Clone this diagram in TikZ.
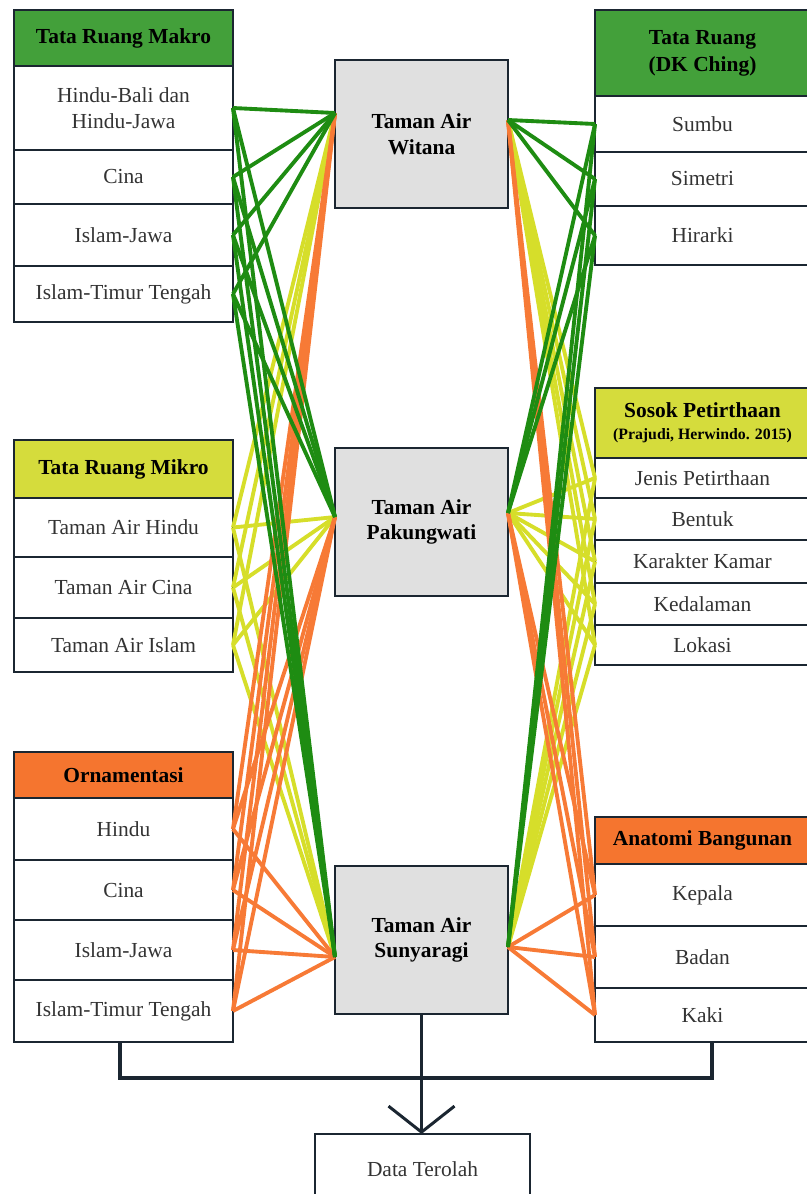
\documentclass[tikz,border=0pt]{standalone}
\usepackage{fontspec}
\setmainfont{Liberation Serif}
\usetikzlibrary{arrows.meta}

\definecolor{boxline}{HTML}{1B2631}
\definecolor{itemtext}{HTML}{333333}
\definecolor{hdrgreen}{HTML}{43A03A}
\definecolor{hdryellow}{HTML}{D5DC3C}
\definecolor{hdrorange}{HTML}{F5752F}
\definecolor{centrefill}{HTML}{E0E0E0}
\definecolor{lgreen}{HTML}{1E8C12}
\definecolor{lyellow}{HTML}{D6DE2A}
\definecolor{lorange}{HTML}{F77A36}

\tikzset{
  box/.style={draw=boxline, line width=1.6pt, inner sep=0pt, outer sep=0pt,
    align=center, text=itemtext, font=\fontsize{12.2}{14.5}\selectfont},
  leftbox/.style={box, minimum width=4.38cm},
  rightbox/.style={box, minimum width=4.3cm},
  header/.style={text=black, font=\fontsize{12.2}{15.5}\selectfont\bfseries},
  centrebox/.style={box, fill=centrefill, text=black, minimum width=3.46cm,
    minimum height=2.96cm, font=\fontsize{12.2}{14.5}\selectfont\bfseries},
  gline/.style={lgreen, line width=2.2pt},
  yline/.style={lyellow, line width=2.2pt},
  oline/.style={lorange, line width=2.2pt},
  joinline/.style={boxline, line width=2.2pt},
  arrowline/.style={boxline, line width=1.7pt, -{Straight Barb[length=0.52cm,width=1.32cm]}}
}

\begin{document}
\begin{tikzpicture}[x=0.02cm, y=-0.02cm]
\useasboundingbox (0,0) rectangle (806,1194);

% left column
\node[leftbox, header, fill=hdrgreen, minimum height=1.12cm] (makh) at (123.5,38) {Tata Ruang Makro};
\node[leftbox, minimum height=1.68cm] (mak1) at (123.5,108) {Hindu-Bali dan\\Hindu-Jawa};
\node[leftbox, minimum height=1.08cm] (mak2) at (123.5,177) {Cina};
\node[leftbox, minimum height=1.24cm] (mak3) at (123.5,235) {Islam-Jawa};
\node[leftbox, minimum height=1.12cm] (mak4) at (123.5,294) {Islam-Timur Tengah};

\node[leftbox, header, fill=hdryellow, minimum height=1.16cm] (mikh) at (123.5,469) {Tata Ruang Mikro};
\node[leftbox, minimum height=1.18cm] (mik1) at (123.5,527.5) {Taman Air Hindu};
\node[leftbox, minimum height=1.22cm] (mik2) at (123.5,587.5) {Taman Air Cina};
\node[leftbox, minimum height=1.08cm] (mik3) at (123.5,645) {Taman Air Islam};

\node[leftbox, header, fill=hdrorange, minimum height=0.92cm] (ornh) at (123.5,775) {Ornamentasi};
\node[leftbox, minimum height=1.24cm] (orn1) at (123.5,829) {Hindu};
\node[leftbox, minimum height=1.2cm] (orn2) at (123.5,890) {Cina};
\node[leftbox, minimum height=1.2cm] (orn3) at (123.5,950) {Islam-Jawa};
\node[leftbox, minimum height=1.24cm] (orn4) at (123.5,1011) {Islam-Timur Tengah};

% right column
\node[rightbox, header, fill=hdrgreen, minimum height=1.72cm] (dkh) at (702.5,53) {Tata Ruang\\(DK Ching)};
\node[rightbox, minimum height=1.12cm] (dk1) at (702.5,124) {Sumbu};
\node[rightbox, minimum height=1.08cm] (dk2) at (702.5,179) {Simetri};
\node[rightbox, minimum height=1.18cm] (dk3) at (702.5,235.5) {Hirarki};

\node[rightbox, header, fill=hdryellow, minimum height=1.4cm] (sosh) at (702.5,423)
  {Sosok Petirthaan\\[-3pt]{\fontsize{9}{11}\selectfont (Prajudi, Herwindo. 2015)}};
\node[rightbox, minimum height=0.8cm] (sos1) at (702.5,478) {Jenis Petirthaan};
\node[rightbox, minimum height=0.84cm] (sos2) at (702.5,519) {Bentuk};
\node[rightbox, minimum height=0.86cm] (sos3) at (702.5,561.5) {Karakter Kamar};
\node[rightbox, minimum height=0.84cm] (sos4) at (702.5,604) {Kedalaman};
\node[rightbox, minimum height=0.8cm] (sos5) at (702.5,645) {Lokasi};

\node[rightbox, header, fill=hdrorange, minimum height=0.94cm] (anah) at (702.5,840.5) {Anatomi Bangunan};
\node[rightbox, minimum height=1.24cm] (ana1) at (702.5,895) {Kepala};
\node[rightbox, minimum height=1.24cm] (ana2) at (702.5,957) {Badan};
\node[rightbox, minimum height=1.08cm] (ana3) at (702.5,1015) {Kaki};

% centre column
\node[centrebox] (wit) at (421.5,134) {Taman Air\\Witana};
\node[centrebox] (pak) at (421.5,522) {Taman Air\\Pakungwati};
\node[centrebox] (sun) at (421.5,940) {Taman Air\\Sunyaragi};
\node[box, minimum width=4.3cm, minimum height=1.4cm] (data) at (422.5,1169) {Data Terolah};

\coordinate (witL) at ([yshift=0.42cm]wit.west);
\coordinate (witR) at ([yshift=0.28cm]wit.east);
\coordinate (pakL) at ([yshift=0.1cm]pak.west);
\coordinate (pakR) at ([yshift=0.18cm]pak.east);
\coordinate (sunL) at ([yshift=-0.34cm]sun.west);
\coordinate (sunR) at ([yshift=-0.14cm]sun.east);

% connectors
\foreach \c in {witL,pakL,sunL}{
  \foreach \a in {mik1,mik2,mik3} \draw[yline] (\a.east) -- (\c);
}
\foreach \c in {witR,pakR,sunR}{
  \foreach \a in {sos1,sos2,sos3,sos4,sos5} \draw[yline] (\a.west) -- (\c);
}
\foreach \c in {witL,pakL,sunL}{
  \foreach \a in {orn1,orn2,orn3,orn4} \draw[oline] (\a.east) -- (\c);
}
\foreach \c in {witR,pakR,sunR}{
  \foreach \a in {ana1,ana2,ana3} \draw[oline] (\a.west) -- (\c);
}
\foreach \c in {witL,pakL,sunL}{
  \foreach \a in {mak1,mak2,mak3,mak4} \draw[gline] (\a.east) -- (\c);
}
\foreach \c in {witR,pakR,sunR}{
  \foreach \a in {dk1,dk2,dk3} \draw[gline] (\a.west) -- (\c);
}

% to data
\draw[joinline] ([xshift=-0.07cm]orn4.south) -- ++(0,36) -| ([xshift=0.19cm]ana3.south);
\draw[arrowline] (sun.south) -- (sun.south |- data.north);
\end{tikzpicture}
\end{document}
